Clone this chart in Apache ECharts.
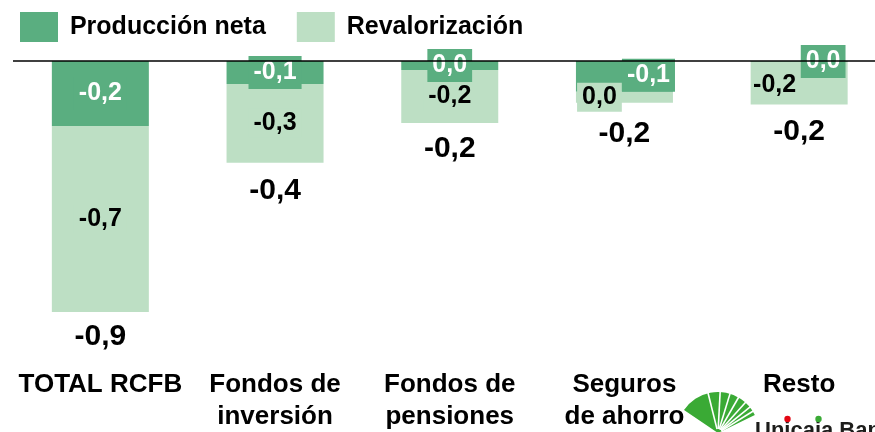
<!DOCTYPE html>
<html>
<head>
<meta charset="utf-8">
<script src="https://cdn.jsdelivr.net/npm/echarts@6/dist/echarts.min.js"></script>
<style>
html,body{margin:0;padding:0;background:#fff;}
#c{width:875px;height:432px;}
</style>
</head>
<body>
<div id="c"></div>
<script>
const categories = ['TOTAL RCFB', 'Fondos de\ninversión', 'Fondos de\npensiones', 'Seguros\nde ahorro', 'Resto'];
const seriesNames = ['Producción neta', 'Revalorización'];
const produccionNeta = [-0.233, -0.082, -0.032, -0.11, -0.003];
const revalorizacion = [-0.667, -0.283, -0.19, -0.04, -0.153];
const totales = [-0.9, -0.4, -0.2, -0.2, -0.2];

const DARK = '#5AAE80';
const LIGHT = '#BDDFC4';
const FONT = "'Liberation Sans', Arial, sans-serif";

function fmt(v) {
  if (Math.abs(v) < 0.05) return '0,0';
  return (Math.round(v * 10) / 10).toFixed(1).replace('.', ',');
}

// label layout tweaks (layout only)
const darkLabelTweaks = {3: {offset: [24, -1]}, 4: {offset: [24, 0]}};
const lightLabelTweaks = {3: {offset: [-25, 0]}, 4: {offset: [-24.5, 2], padding: [2, 2]}};
const totalOffsets = [25, 28, 26, 31, 27];

const darkData = produccionNeta.map((v, i) => darkLabelTweaks[i] ? {value: v, label: darkLabelTweaks[i]} : v);
const lightData = revalorizacion.map((v, i) => lightLabelTweaks[i] ? {value: v, label: lightLabelTweaks[i]} : v);
const totalData = totales.map((t, i) => ({
  value: [i, produccionNeta[i] + revalorizacion[i]],
  label: {offset: [0, totalOffsets[i]]}
}));

const chart = echarts.init(document.getElementById('c'), null, {renderer: 'canvas'});

// logo geometry
const cx = 718, cy = 433, r = 41;
const lineAngles = [-104, -87, -73, -60, -48, -39, -32];
const logo = [
  {type: 'sector', shape: {cx: cx, cy: cy, r: r, r0: 0, startAngle: -146 * Math.PI / 180, endAngle: -26 * Math.PI / 180, clockwise: true}, style: {fill: '#3AAA35'}, z: 10}
];
lineAngles.forEach(a => {
  const rad = a * Math.PI / 180;
  logo.push({type: 'line', shape: {x1: cx + 4 * Math.cos(rad), y1: cy + 4 * Math.sin(rad), x2: cx + (r + 2) * Math.cos(rad), y2: cy + (r + 2) * Math.sin(rad)}, style: {stroke: '#fff', lineWidth: 1.6}, z: 11});
});
logo.push({type: 'text', x: 755, y: 420, style: {text: 'Unicaja Banco', font: 'bold 22px ' + FONT, fill: '#1d1d1b', verticalAlign: 'top', align: 'left'}, z: 10});
logo.push({type: 'circle', shape: {cx: 787.5, cy: 419, r: 3.2}, style: {fill: '#E30613'}, z: 12});
logo.push({type: 'circle', shape: {cx: 818.5, cy: 419, r: 3.2}, style: {fill: '#3AAA35'}, z: 12});

chart.setOption({
  animation: false,
  textStyle: {fontFamily: FONT},
  legend: {
    data: seriesNames,
    left: 20, top: 12, padding: 0,
    itemWidth: 38, itemHeight: 30, itemGap: 31,
    icon: 'rect',
    formatter: ' {name}',
    textStyle: {fontSize: 25, fontWeight: 'bold', color: '#000', fontFamily: FONT, padding: [4, 0, 0, 0]}
  },
  grid: {left: 13, top: 61, width: 873.5, height: 306.9, containLabel: false, outerBoundsMode: 'none'},
  xAxis: {
    type: 'category',
    data: categories,
    axisLine: {show: false},
    axisTick: {show: false},
    axisLabel: {interval: 0, fontSize: 26, fontWeight: 'bold', color: '#000', lineHeight: 32, margin: 1, fontFamily: FONT}
  },
  yAxis: {type: 'value', min: -1.1, max: 0, show: false, splitLine: {show: false}},
  series: [
    {
      name: seriesNames[0], type: 'bar', stack: 'a', barWidth: 97,
      itemStyle: {color: DARK},
      data: darkData,
      label: {
        show: true, position: 'inside', color: '#fff', fontSize: 25, fontWeight: 'bold', fontFamily: FONT,
        backgroundColor: DARK, padding: [4, 5],
        formatter: p => fmt(p.value)
      },
      markLine: {
        silent: true, symbol: 'none', label: {show: false},
        lineStyle: {color: '#000', width: 1.5, type: 'solid'},
        data: [{yAxis: 0}]
      },
      z: 2
    },
    {
      name: seriesNames[1], type: 'bar', stack: 'a', barWidth: 97,
      itemStyle: {color: LIGHT},
      data: lightData,
      label: {
        show: true, position: 'inside', color: '#000', fontSize: 25, fontWeight: 'bold', fontFamily: FONT,
        backgroundColor: LIGHT, padding: [2, 5],
        formatter: p => fmt(p.value)
      },
      z: 2
    },
    {
      name: 'Total', type: 'scatter', symbolSize: 1, symbol: 'circle',
      itemStyle: {color: 'rgba(255,255,255,0)', opacity: 1},
      data: totalData,
      label: {
        show: true, position: 'inside', color: '#000', fontSize: 30, fontWeight: 'bold', fontFamily: FONT,
        textBorderWidth: 0,
        formatter: p => fmt(totales[p.dataIndex])
      },
      emphasis: {disabled: true},
      z: 3
    }
  ],
  graphic: logo
});
</script>
</body>
</html>
